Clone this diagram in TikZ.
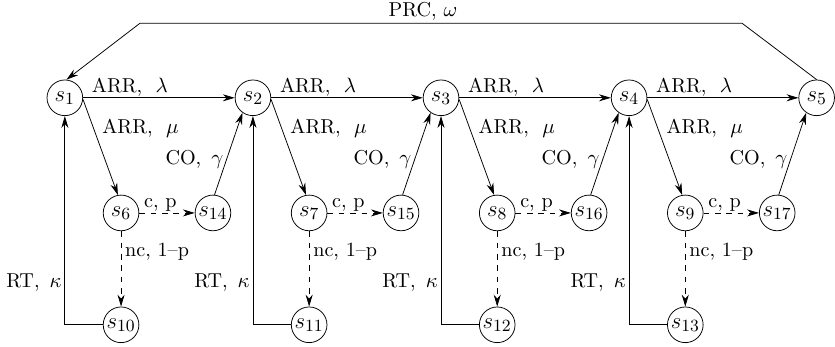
\documentclass[tikz,border=0pt]{standalone}
\usetikzlibrary{arrows.meta}
\begin{document}
\begin{tikzpicture}[
    state/.style={draw, circle, minimum size=0.66cm, inner sep=0pt, font=\fontsize{13}{15}\selectfont},
    lbl/.style={inner sep=0.5pt, font=\fontsize{10.6}{12.5}\selectfont},
    >={Stealth[length=2.2mm, width=1.3mm]}
  ]
    \useasboundingbox (0,0) rectangle (15.45,6.42);

    % upper chain
    \node[state] (s1) at (1.20, 4.61) {$s_1$};
    \node[state] (s2) at (4.68, 4.61) {$s_2$};
    \node[state] (s3) at (8.16, 4.61) {$s_3$};
    \node[state] (s4) at (11.64, 4.61) {$s_4$};
    \node[state] (s5) at (15.11, 4.61) {$s_5$};

    % middle row
    \node[state] (s6) at (2.24, 2.48) {$s_6$};
    \node[state] (s14) at (3.94, 2.48) {$s_{14}$};
    \node[state] (s7) at (5.72, 2.48) {$s_7$};
    \node[state] (s15) at (7.42, 2.48) {$s_{15}$};
    \node[state] (s8) at (9.20, 2.48) {$s_8$};
    \node[state] (s16) at (10.90, 2.48) {$s_{16}$};
    \node[state] (s9) at (12.68, 2.48) {$s_9$};
    \node[state] (s17) at (14.38, 2.48) {$s_{17}$};

    % lower row
    \node[state] (s10) at (2.24, 0.41) {$s_{10}$};
    \node[state] (s11) at (5.72, 0.41) {$s_{11}$};
    \node[state] (s12) at (9.20, 0.41) {$s_{12}$};
    \node[state] (s13) at (12.68, 0.41) {$s_{13}$};

    % PRC back to s1
    \coordinate (prcR) at (13.73, 5.99);
    \coordinate (prcL) at (2.59, 5.99);
    \draw[->] (s5.north) -- (prcR) -- node[lbl, above=1pt, pos=0.53] {PRC, $\omega$} (prcL) -- (s1.85);

    % s1 -> s2
    \draw[->] (s1.east) -- node[lbl, above right, pos=0.05] {ARR,\ \ $\lambda$} (s2.west);
    \draw[->] (s1.-5) -- node[lbl, right=4pt, pos=0.3] {ARR,\ \ $\mu$} (s6.100);
    \draw[->, dashed] (s6.east) -- node[lbl, above, pos=0.38] {c, p} (s14.west);
    \draw[->, dashed] (s6.south) -- node[lbl, right=1.5pt, pos=0.27] {nc, 1--p} (s10.north);
    \draw[->] (s14.85) -- node[lbl, left=1pt, pos=0.43] {CO, \,$\gamma$} (s2.-125);
    \draw[->] (s10.west) -| node[lbl, left=1pt, pos=0.6] {RT, \,$\kappa$} (s1.south);

    % s2 -> s3
    \draw[->] (s2.east) -- node[lbl, above right, pos=0.05] {ARR,\ \ $\lambda$} (s3.west);
    \draw[->] (s2.-5) -- node[lbl, right=4pt, pos=0.3] {ARR,\ \ $\mu$} (s7.100);
    \draw[->, dashed] (s7.east) -- node[lbl, above, pos=0.38] {c, p} (s15.west);
    \draw[->, dashed] (s7.south) -- node[lbl, right=1.5pt, pos=0.27] {nc, 1--p} (s11.north);
    \draw[->] (s15.85) -- node[lbl, left=1pt, pos=0.43] {CO, \,$\gamma$} (s3.-125);
    \draw[->] (s11.west) -| node[lbl, left=1pt, pos=0.6] {RT, \,$\kappa$} (s2.south);

    % s3 -> s4
    \draw[->] (s3.east) -- node[lbl, above right, pos=0.05] {ARR,\ \ $\lambda$} (s4.west);
    \draw[->] (s3.-5) -- node[lbl, right=4pt, pos=0.3] {ARR,\ \ $\mu$} (s8.100);
    \draw[->, dashed] (s8.east) -- node[lbl, above, pos=0.38] {c, p} (s16.west);
    \draw[->, dashed] (s8.south) -- node[lbl, right=1.5pt, pos=0.27] {nc, 1--p} (s12.north);
    \draw[->] (s16.85) -- node[lbl, left=1pt, pos=0.43] {CO, \,$\gamma$} (s4.-125);
    \draw[->] (s12.west) -| node[lbl, left=1pt, pos=0.6] {RT, \,$\kappa$} (s3.south);

    % s4 -> s5
    \draw[->] (s4.east) -- node[lbl, above right, pos=0.05] {ARR,\ \ $\lambda$} (s5.west);
    \draw[->] (s4.-5) -- node[lbl, right=4pt, pos=0.3] {ARR,\ \ $\mu$} (s9.100);
    \draw[->, dashed] (s9.east) -- node[lbl, above, pos=0.38] {c, p} (s17.west);
    \draw[->, dashed] (s9.south) -- node[lbl, right=1.5pt, pos=0.27] {nc, 1--p} (s13.north);
    \draw[->] (s17.85) -- node[lbl, left=1pt, pos=0.43] {CO, \,$\gamma$} (s5.-125);
    \draw[->] (s13.west) -| node[lbl, left=1pt, pos=0.6] {RT, \,$\kappa$} (s4.south);
\end{tikzpicture}
\end{document}
